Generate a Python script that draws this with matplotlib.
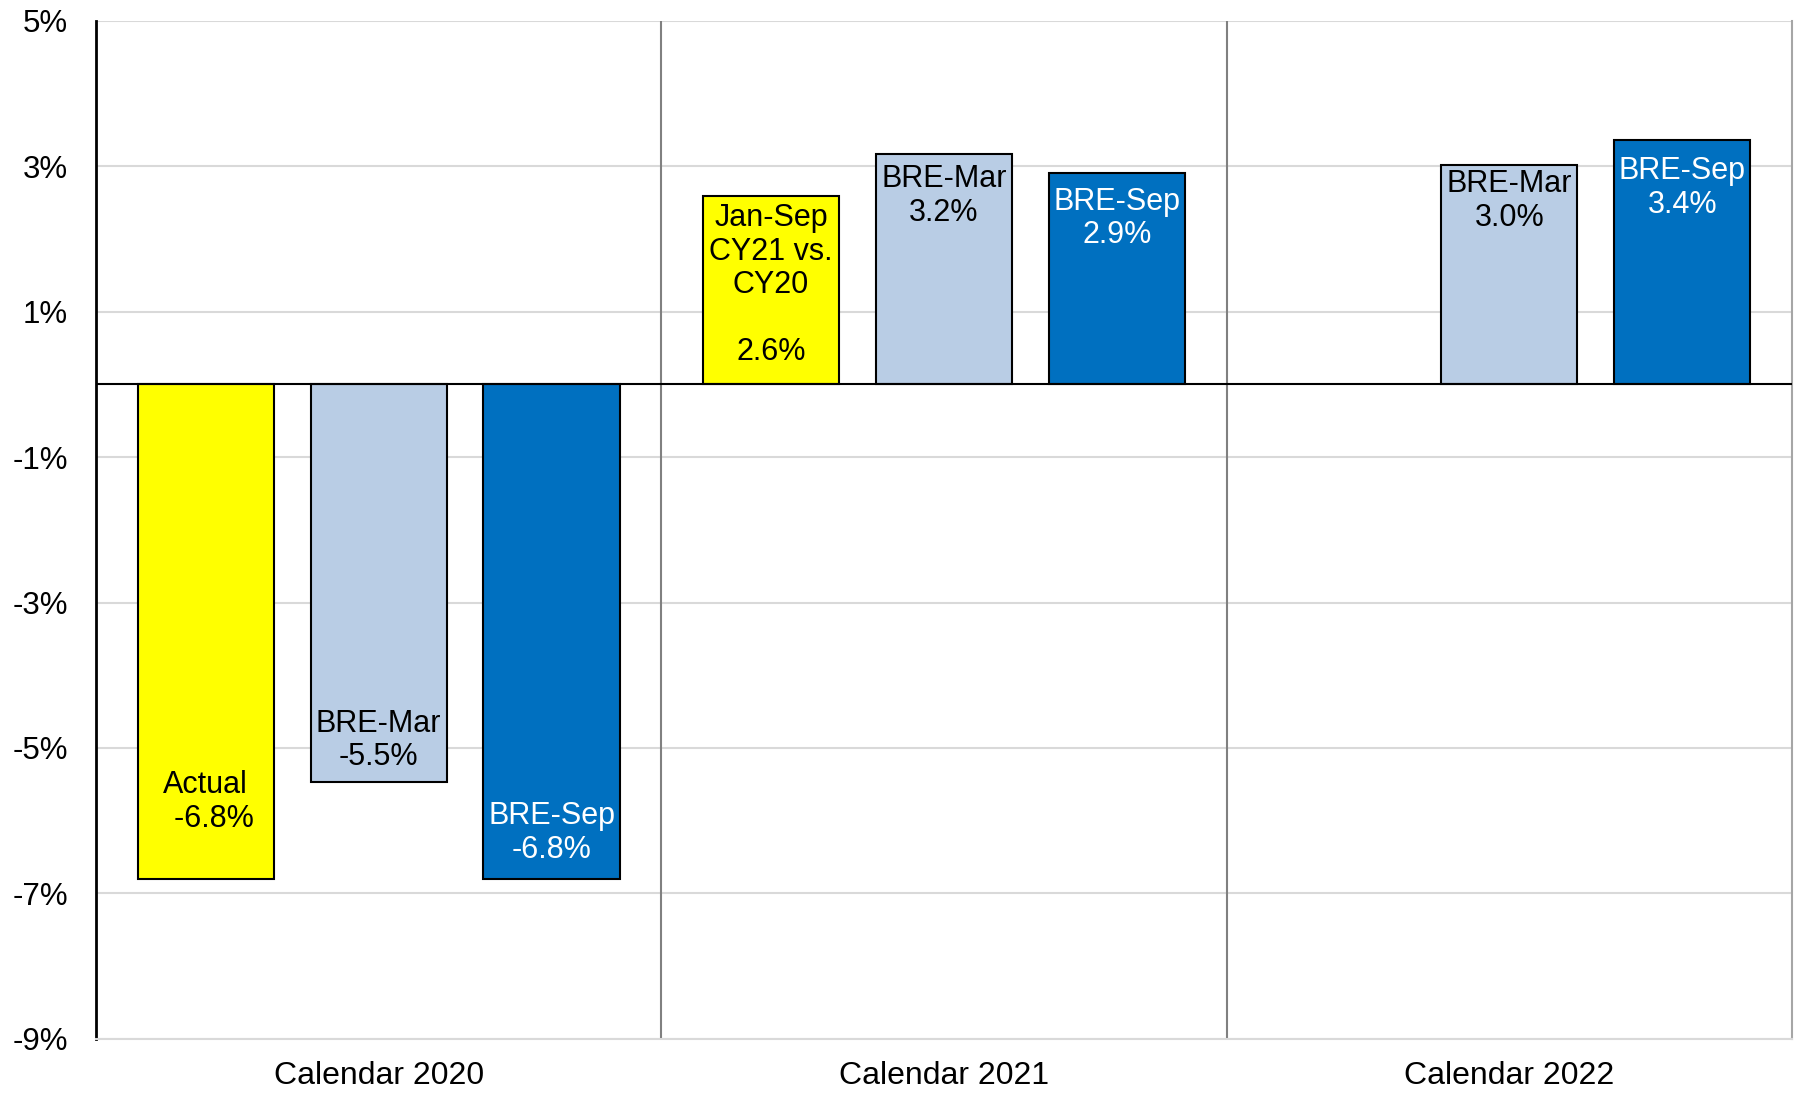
import numpy as np
import matplotlib
matplotlib.use("Agg")
import matplotlib.pyplot as plt

plt.rcParams["font.family"] = ["Liberation Sans", "DejaVu Sans"]

groups = ["Calendar 2020", "Calendar 2021", "Calendar 2022"]

# yellow series: actual CY20, Jan-Sep CY21 vs CY20 (none for 2022)
actual = [-6.8, 2.59, np.nan]
bre_mar = [-5.47, 3.16, 3.02]
bre_sep = [-6.8, 2.9, 3.36]

actual_labels = ["Actual\n  -6.8%", "Jan-Sep\nCY21 vs.\nCY20\n\n2.6%", ""]
mar_labels = ["BRE-Mar\n-5.5%", "BRE-Mar\n3.2%", "BRE-Mar\n3.0%"]
sep_labels = ["BRE-Sep\n-6.8%", "BRE-Sep\n2.9%", "BRE-Sep\n3.4%"]

y_ticks = [5, 3, 1, -1, -3, -5, -7, -9]

# label centre offsets from bar end (in % units)
actual_off = [1.06, -1.23, 0]
mar_off = [0.57, -0.57, -0.50]
sep_off = [0.63, -0.62, -0.66]

fig = plt.figure(figsize=(17.97, 10.94), dpi=100)
ax = fig.add_axes([0.0534, 0.0503, 0.9438, 0.9309])

x = np.arange(len(groups))
shift = 0.306
width = 0.241

series = [
    (actual, -shift, "#FFFF00", "black", actual_labels, actual_off),
    (bre_mar, 0.0, "#B9CDE5", "black", mar_labels, mar_off),
    (bre_sep, shift, "#0070C0", "white", sep_labels, sep_off),
]

for vals, dx, color, tcolor, labels, offs in series:
    vals = np.array(vals, dtype=float)
    ok = ~np.isnan(vals)
    ax.bar(x[ok] + dx, vals[ok], width=width, color=color,
           edgecolor="black", linewidth=1.5, zorder=3)
    for xi, v, lab, o in zip(x, vals, labels, offs):
        if np.isnan(v) or not lab:
            continue
        ax.text(xi + dx, v + o, lab, ha="center", va="center",
                multialignment="center", fontsize=22, color=tcolor,
                linespacing=1.15, zorder=4)

ax.set_xlim(-0.5, len(groups) - 0.5)
ax.set_ylim(-9, 5)
ax.set_yticks(y_ticks, labels=[f"{t}%" for t in y_ticks])
ax.set_xticks(x, labels=groups)
ax.tick_params(axis="y", length=0, pad=20, labelsize=22.5)
ax.tick_params(axis="x", length=0, pad=16, labelsize=23)

ax.yaxis.grid(True, color="#d9d9d9", linewidth=1.5, zorder=0)
ax.set_axisbelow(True)
for xs in x[:-1] + 0.5:
    ax.axvline(xs, color="#808080", linewidth=1.5, zorder=1)
ax.axhline(0, color="black", linewidth=1.5, zorder=5)

ax.spines["left"].set_color("black")
ax.spines["left"].set_linewidth(2)
ax.spines["top"].set_visible(False)
ax.spines["bottom"].set_color("#d9d9d9")
ax.spines["bottom"].set_linewidth(1.5)
ax.spines["right"].set_color("#a6a6a6")
ax.spines["right"].set_linewidth(1.5)

fig.savefig("out.png", dpi=100)
